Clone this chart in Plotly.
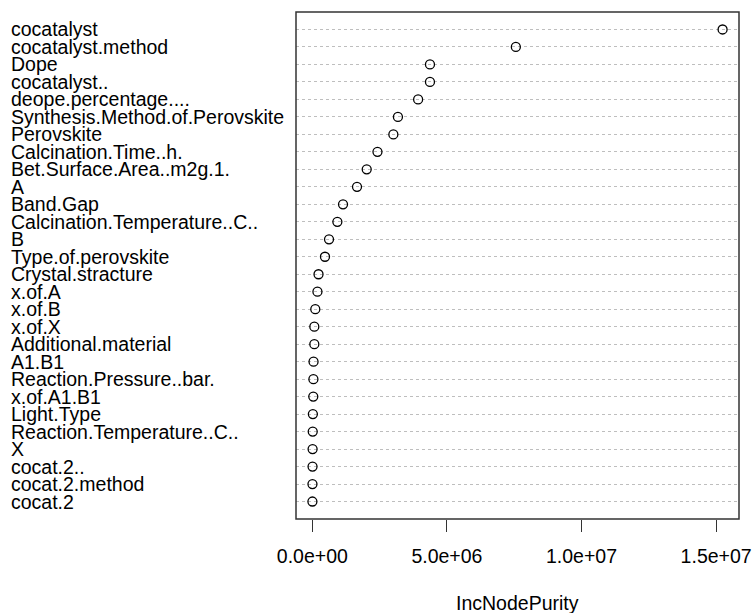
import plotly.graph_objects as go

variables = [
    "cocatalyst", "cocatalyst.method", "Dope", "cocatalyst..", "deope.percentage....",
    "Synthesis.Method.of.Perovskite", "Perovskite", "Calcination.Time..h.",
    "Bet.Surface.Area..m2g.1.", "A", "Band.Gap", "Calcination.Temperature..C..", "B",
    "Type.of.perovskite", "Crystal.stracture", "x.of.A", "x.of.B", "x.of.X",
    "Additional.material", "A1.B1", "Reaction.Pressure..bar.", "x.of.A1.B1",
    "Light.Type", "Reaction.Temperature..C..", "X", "cocat.2..", "cocat.2.method", "cocat.2",
]
inc_node_purity = [
    15.24e6, 7.56e6, 4.37e6, 4.37e6, 3.93e6,
    3.18e6, 3.01e6, 2.42e6,
    2.02e6, 1.66e6, 1.14e6, 0.93e6, 0.62e6,
    0.47e6, 0.23e6, 0.19e6, 0.11e6, 0.074e6,
    0.074e6, 0.045e6, 0.04e6, 0.035e6,
    0.02e6, 0.015e6, 0.01e6, 0.008e6, 0.005e6, 0.003e6,
]
tick_vals = [0, 5e6, 1e7, 1.5e7]
tick_text = ["0.0e+00", "5.0e+06", "1.0e+07", "1.5e+07"]

n = len(variables)
rows = list(range(n, 0, -1))

FONT = "Liberation Sans, Arial, sans-serif"
FS = 19.5
W, H = 753, 613
ML, MR, MT, MB = 296, 14, 12, 94

xmin, xmax = min(inc_node_purity), max(inc_node_purity)
pad = 0.04 * (xmax - xmin)

fig = go.Figure()
fig.add_trace(go.Scatter(
    x=inc_node_purity, y=rows, mode="markers",
    marker=dict(symbol="circle-open", size=9, color="black", line=dict(width=1.3, color="black")),
    hoverinfo="x+text", text=variables, showlegend=False,
))

annotations = []
for name, r in zip(variables, rows):
    annotations.append(dict(
        x=(11 - ML) / (W - ML - MR), xref="paper", y=r, yref="y", xshift=-2,
        text=name, showarrow=False, xanchor="left", yanchor="middle",
        font=dict(family=FONT, size=FS, color="black"),
    ))
annotations.append(dict(
    x=0.5, xref="paper", y=0, yref="paper", yshift=-84,
    text="IncNodePurity", showarrow=False, xanchor="center", yanchor="middle",
    font=dict(family=FONT, size=FS, color="black"),
))

fig.update_layout(
    width=W, height=H,
    margin=dict(l=ML, r=MR, t=MT, b=MB, autoexpand=False),
    paper_bgcolor="white", plot_bgcolor="white",
    font=dict(family=FONT, size=FS, color="black"),
    xaxis=dict(
        range=[xmin - pad, xmax + pad], tickvals=tick_vals, ticktext=tick_text,
        ticks="outside", ticklen=12, tickwidth=1, tickcolor="#333",
        showgrid=False, zeroline=False, showline=False, automargin=False,
        ticklabelstandoff=8,
        tickfont=dict(family=FONT, size=FS, color="black"),
    ),
    yaxis=dict(
        range=[0, n + 1], tickvals=rows, showticklabels=False, ticks="",
        showgrid=True, gridcolor="#BEBEBE", griddash="dot", gridwidth=1,
        zeroline=False, showline=False, automargin=False,
    ),
    annotations=annotations,
    shapes=[dict(type="rect", xref="paper", yref="paper", x0=0, y0=0, x1=1, y1=1,
                 line=dict(color="#333", width=1.5), fillcolor="rgba(0,0,0,0)", layer="above")],
)

fig.write_html("out.html")
